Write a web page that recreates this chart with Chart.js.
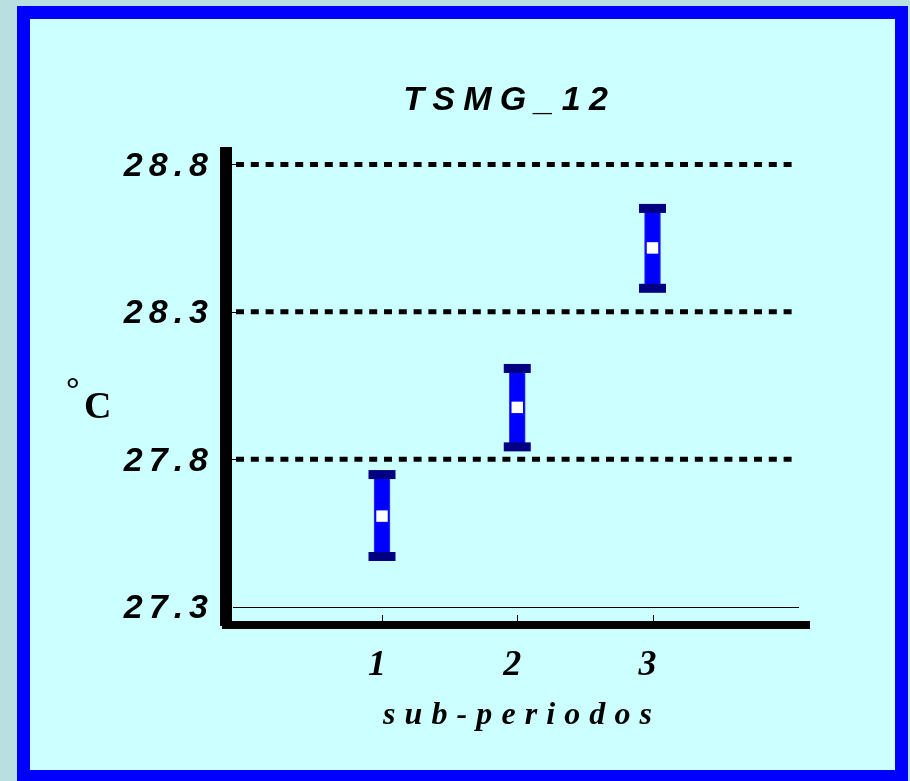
<!DOCTYPE html>
<html>
<head>
<meta charset="utf-8">
<title>TSMG_12</title>
<script src="https://cdn.jsdelivr.net/npm/chart.js@4.4.1/dist/chart.umd.min.js"></script>
<style>
  html, body { margin: 0; padding: 0; background: #badfe1; overflow: hidden; }
  #panel {
    position: absolute; left: 17px; top: 6px;
    width: 865px; height: 751px;
    border: 13px solid #0000ff;
    background: #ccffff;
  }
  canvas { display: block; }
</style>
</head>
<body>
<div id="panel"><canvas id="chart" width="865" height="751"></canvas></div>
<script>
// Values
const subPeriods = [1, 2, 3];
const meanTemp  = [27.607, 27.976, 28.517];
const lowerTemp = [27.470, 27.842, 28.380];
const upperTemp = [27.748, 28.108, 28.651];
const yTicks = [27.3, 27.8, 28.3, 28.8];

const chartTitle = "TSMG_12";
const xTitle = "sub-periodos";

// draws text char by char with a fixed gap between letters
function spacedText(ctx, text, x, y, gap, align) {
  const chars = [...text];
  const widths = chars.map(c => ctx.measureText(c).width);
  const total = widths.reduce((a, b) => a + b, 0) + gap * (chars.length - 1);
  let cx = align === "center" ? x - total / 2 : align === "right" ? x - total : x;
  ctx.textAlign = "left";
  chars.forEach((c, i) => {
    ctx.fillText(c, cx, y);
    cx += widths[i] + gap;
  });
}

const axisDecor = {
  id: "axisDecor",
  beforeDatasetsDraw(chart) {
    const { ctx, chartArea: a, scales: { x, y } } = chart;
    ctx.save();
    ctx.strokeStyle = "#000";
    yTicks.forEach((v, i) => {
      const py = y.getPixelForValue(v);
      const thin = Math.round(py) + 0.5;
      ctx.setLineDash([]);
      ctx.lineWidth = 1;
      ctx.beginPath();
      if (i === 0) {
        ctx.moveTo(a.left + 7, thin);
        ctx.lineTo(a.right - 10, thin);
      } else {
        ctx.moveTo(a.left + 6, thin);
        ctx.lineTo(a.left + 10, thin);
      }
      ctx.stroke();
      if (i > 0) {
        ctx.lineWidth = 5;
        ctx.setLineDash([8, 6.8]);
        ctx.beginPath();
        ctx.moveTo(a.left + 10, py);
        ctx.lineTo(a.right - 17, py);
        ctx.stroke();
      }
    });
    // small ticks inside the x axis
    ctx.setLineDash([]);
    ctx.lineWidth = 1;
    subPeriods.forEach(v => {
      const px = Math.round(x.getPixelForValue(v)) + 0.5;
      ctx.beginPath();
      ctx.moveTo(px, a.bottom - 10);
      ctx.lineTo(px, a.bottom - 4);
      ctx.stroke();
    });
    ctx.restore();
  },
  afterDraw(chart) {
    const { ctx, chartArea: a, scales: { x, y } } = chart;
    const midX = (a.left + a.right) / 2;
    ctx.save();
    ctx.fillStyle = "#000";
    ctx.textBaseline = "alphabetic";

    ctx.font = "italic bold 34px 'Liberation Sans'";
    spacedText(ctx, chartTitle, midX - 12, a.top - 43, 8.3, "center");

    yTicks.forEach(v => {
      spacedText(ctx, v.toFixed(1), a.left - 18, y.getPixelForValue(v) + 11.5, 6, "right");
    });

    ctx.font = "italic bold 36px 'Liberation Serif'";
    subPeriods.forEach(v => {
      spacedText(ctx, String(v), x.getPixelForValue(v) - 5, a.bottom + 50, 0, "center");
    });

    ctx.font = "italic bold 32px 'Liberation Serif'";
    spacedText(ctx, xTitle, midX, a.bottom + 99, 9.1, "center");

    // degree sign + C
    ctx.font = "bold 34px 'Liberation Serif'";
    ctx.fillText("\u00B0", 36, 381);
    ctx.font = "bold 38px 'Liberation Serif'";
    ctx.fillText("C", 54, 399);
    ctx.restore();
  }
};

new Chart(document.getElementById("chart"), {
  type: "bar",
  data: {
    datasets: [
      {
        type: "scatter",
        label: "media",
        data: subPeriods.map((p, i) => ({ x: p, y: meanTemp[i] })),
        pointStyle: "rect",
        pointRadius: 8.1,
        backgroundColor: "#ffffff",
        borderWidth: 0,
        order: 0
      },
      {
        type: "scatter",
        label: "superior",
        data: subPeriods.map((p, i) => ({ x: p, y: upperTemp[i] })),
        pointStyle: "line",
        pointRadius: 13.5,
        borderColor: "#000080",
        borderWidth: 9,
        order: 1
      },
      {
        type: "scatter",
        label: "inferior",
        data: subPeriods.map((p, i) => ({ x: p, y: lowerTemp[i] })),
        pointStyle: "line",
        pointRadius: 13.5,
        borderColor: "#000080",
        borderWidth: 9,
        order: 1
      },
      {
        label: "intervalo",
        data: subPeriods.map((p, i) => ({ x: p, y: [lowerTemp[i], upperTemp[i]] })),
        backgroundColor: "#0000ff",
        borderColor: "#3a3aff",
        borderWidth: 1,
        borderSkipped: false,
        barThickness: 16,
        order: 2
      }
    ]
  },
  options: {
    responsive: false,
    animation: false,
    layout: { padding: { top: 134, right: 86, left: 0, bottom: 0 } },
    plugins: {
      legend: { display: false },
      title: { display: false },
      tooltip: { enabled: false }
    },
    scales: {
      x: {
        type: "linear",
        min: -0.1534,
        max: 4.157,
        offset: false,
        grid: { display: true, drawOnChartArea: false, drawTicks: false },
        ticks: { display: false },
        border: { display: true, color: "#000", width: 8 },
        afterFit(s) { s.height = 145; }
      },
      y: {
        type: "linear",
        min: 27.2376,
        max: 28.839,
        grid: { display: true, drawOnChartArea: false, drawTicks: false },
        ticks: { display: false },
        border: { display: true, color: "#000", width: 12 },
        afterFit(s) { s.width = 196; }
      }
    }
  },
  plugins: [axisDecor]
});
</script>
</body>
</html>
